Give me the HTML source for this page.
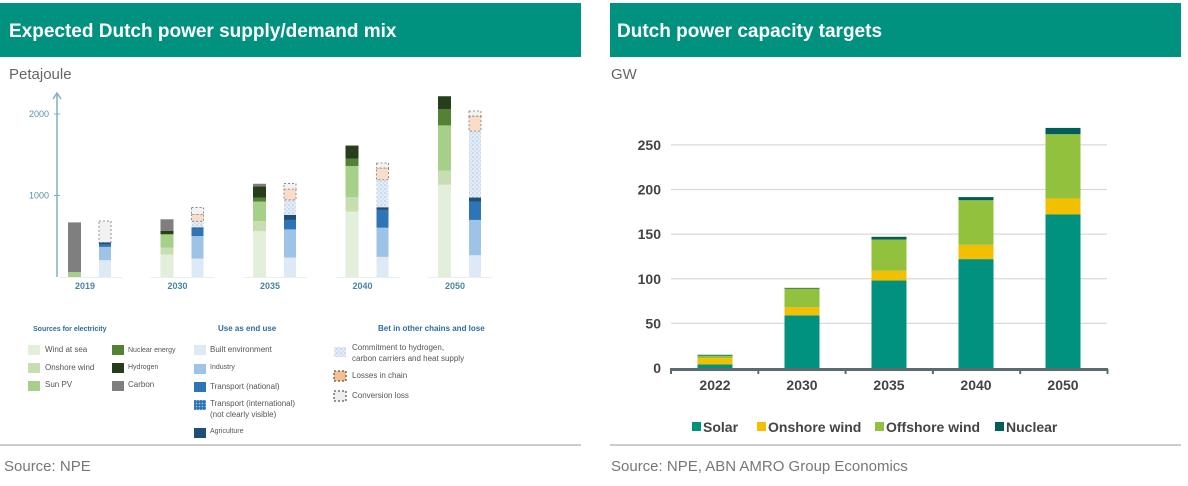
<!DOCTYPE html>
<html><head><meta charset="utf-8"><style>
body{margin:0;background:#fff;font-family:"Liberation Sans",sans-serif;}
svg{display:block}
</style></head><body>
<svg width="1188" height="486" viewBox="0 0 1188 486" xmlns="http://www.w3.org/2000/svg" font-family="Liberation Sans, sans-serif">
<defs>
<pattern id="dots" width="4" height="4" patternUnits="userSpaceOnUse"><rect width="4" height="4" fill="#e4edf7"/><circle cx="1" cy="1" r="0.8" fill="#a9c4e0"/><circle cx="3" cy="3" r="0.8" fill="#c4d7ec"/></pattern>
<pattern id="dots2" width="3" height="3" patternUnits="userSpaceOnUse"><rect width="3" height="3" fill="#2e75b6"/><circle cx="1.5" cy="1.5" r="0.8" fill="#9dc3e6"/></pattern>
</defs>
<rect x="0" y="3" width="581" height="54" fill="#00927f"/>
<text x="9" y="37" fill="#fff" font-size="19" font-weight="bold">Expected Dutch power supply/demand mix</text>
<rect x="610" y="3" width="571" height="54" fill="#00927f"/>
<text x="617" y="37" fill="#fff" font-size="19" font-weight="bold">Dutch power capacity targets</text>
<text x="9" y="79" fill="#666" font-size="15">Petajoule</text>
<text x="611" y="79" fill="#666" font-size="15">GW</text>
<line x1="0" y1="445" x2="581" y2="445" stroke="#bbb" stroke-width="1.5"/>
<line x1="610" y1="445" x2="1181" y2="445" stroke="#bbb" stroke-width="1.5"/>
<text x="4" y="471" fill="#777" font-size="15">Source: NPE</text>
<text x="611" y="471" fill="#777" font-size="15">Source: NPE, ABN AMRO Group Economics</text>
<g id="left"></g>
<g id="right"></g>
<g font-size="8" fill="#555">
<text x="33" y="331" fill="#2e6da4" font-size="7" font-weight="bold">Sources for electricity</text>
<text x="218" y="331" fill="#2e6da4" font-size="8" font-weight="bold">Use as end use</text>
<text x="378" y="331" fill="#2e6da4" font-size="8" font-weight="bold">Bet in other chains and lose</text>
<rect x="28" y="345" width="12" height="10" fill="#e3eedb"/><text x="45" y="352">Wind at sea</text>
<rect x="28" y="363" width="12" height="10" fill="#c6deb2"/><text x="45" y="370">Onshore wind</text>
<rect x="28" y="381" width="12" height="10" fill="#a6cf8a"/><text x="45" y="387">Sun PV</text>
<rect x="112" y="345" width="12" height="10" fill="#548235"/><text x="128" y="352" font-size="7">Nuclear energy</text>
<rect x="112" y="363" width="12" height="10" fill="#263f1a"/><text x="128" y="369" font-size="7">Hydrogen</text>
<rect x="112" y="381" width="12" height="10" fill="#7f7f7f"/><text x="128" y="387">Carbon</text>
<rect x="194" y="345" width="12" height="10" fill="#dde9f5"/><text x="210" y="352">Built environment</text>
<rect x="194" y="364" width="12" height="10" fill="#9dc3e6"/><text x="210" y="369" font-size="7">Industry</text>
<rect x="194" y="382" width="12" height="10" fill="#2e75b6"/><text x="210" y="389">Transport (national)</text>
<rect x="194" y="400" width="12" height="10" fill="url(#dots2)"/><text x="210" y="406">Transport (international)</text><text x="210" y="417">(not clearly visible)</text>
<rect x="194" y="428" width="12" height="10" fill="#1f4e79"/><text x="210" y="433" font-size="7">Agriculture</text>
<rect x="334" y="347" width="12" height="10" fill="url(#dots)"/><text x="352" y="350">Commitment to hydrogen,</text><text x="352" y="361">carbon carriers and heat supply</text>
<rect x="334" y="371" width="12" height="10" fill="#f4c08f" stroke="#333" stroke-dasharray="2,2"/><text x="352" y="378">Losses in chain</text>
<rect x="334" y="391" width="12" height="10" fill="#eee" stroke="#333" stroke-dasharray="2,2"/><text x="352" y="398">Conversion loss</text>
</g>
<g font-size="14" font-weight="bold" fill="#444">
<rect x="692" y="422" width="9" height="9" fill="#00927f"/><text x="703" y="432">Solar</text>
<rect x="757" y="422" width="9" height="9" fill="#f2c000"/><text x="768" y="432">Onshore wind</text>
<rect x="875" y="422" width="9" height="9" fill="#92c13e"/><text x="886" y="432">Offshore wind</text>
<rect x="995" y="422" width="9" height="9" fill="#005e5a"/><text x="1006" y="432">Nuclear</text>
</g>
<script>
// ---- Left chart data (PJ) ----
const lYears = ["2019","2030","2035","2040","2050"];
const windSea   = [0,275,564,802,1132];
const onshore   = [0,87,123,177,173];
const sunPV     = [60,160,239,383,555];
const nuclearE  = [0,6,49,91,198];
const hydrogen  = [0,40,136,160,160];
const carbon    = [610,140,33,0,0];
const builtEnv  = [206,226,239,247,267];
const industry  = [164,276,345,358,433];
const transport = [30,90,116,218,226];
const agri      = [24,17,61,33,49];
const commit    = [0,74,185,337,815];
const losses    = [0,82,132,144,185];
const convLoss  = [263,87,70,62,62];
const lTicks = [1000,2000];

// ---- Right chart data (GW) ----
const rYears = ["2022","2030","2035","2040","2050"];
const solar = [4,59,98,122,172];
const onWind = [7,9,11,16,18];
const offWind = [3,21,35,50,72];
const nuclear = [0.8,0.8,3,3.5,7];
const rTicks = [0,50,100,150,200,250];

const NS="http://www.w3.org/2000/svg";
function mk(parent,tag,attrs){const e=document.createElementNS(NS,tag);for(const k in attrs)e.setAttribute(k,attrs[k]);parent.appendChild(e);return e;}

// Left
const L=document.getElementById('left');
const ly=v=>277-v*0.0815;
const lx=i=>85+i*92.5;
const ax=mk(L,'line',{x1:57,y1:277,x2:57,y2:93,stroke:'#7fb0c4','stroke-width':1.5});


mk(L,'path',{d:'M53,99 L57,93 L61,99',fill:'none',stroke:'#7fb0c4','stroke-width':1.5});
lTicks.forEach(t=>{
  const tl=mk(L,'line',{x1:54,x2:60,y1:ly(t),y2:ly(t),stroke:'#7fb0c4'});
  
  
  const tx=mk(L,'text',{x:49,y:ly(t)+3,'text-anchor':'end','font-size':9,fill:'#5a8fa8'});
  tx.textContent=t;
  
  
});
const supply=[[windSea,'#e3eedb'],[onshore,'#c6deb2'],[sunPV,'#a6cf8a'],[nuclearE,'#548235'],[hydrogen,'#263f1a'],[carbon,'#7f7f7f']];
const demand=[[builtEnv,'#dde9f5',0],[industry,'#9dc3e6',0],[transport,'#2e75b6',0],[agri,'#1f4e79',0],[commit,'url(#dots)',0],[losses,'#fbdcc8',1],[convLoss,'#f2f2f2',1]];
lYears.forEach((y,i)=>{
  const c=lx(i);
  const bl=mk(L,'line',{x1:c-27,x2:c+37,y1:277.5,y2:277.5,stroke:'#e8eef2'});
  let acc=0;
  supply.forEach(([arr,col])=>{
    if(arr[i]<=0)return;
    const r=mk(L,'rect',{x:c-17,width:13,y:ly(acc+arr[i]),height:arr[i]*0.0815,fill:col});
    
    
    acc+=arr[i];
  });
  acc=0;
  demand.forEach(([arr,col,dash])=>{
    if(arr[i]<=0)return;
    const a={x:c+14,width:12,y:ly(acc+arr[i]),height:arr[i]*0.0815,fill:col};
    if(dash){a.stroke='#777';a['stroke-dasharray']='2,2';a['stroke-width']=0.8;}
    const r=mk(L,'rect',a);
    
    
    acc+=arr[i];
  });
  const t=mk(L,'text',{x:c,y:289,'text-anchor':'middle','font-size':9,'font-weight':'bold',fill:'#4a85a0'});
  t.textContent=y;
  
  
});

// Right
const R=document.getElementById('right');
const ry=v=>368-v*0.8925;
const rx=i=>715+i*87;
rTicks.forEach(t=>{
  if(t>0){const g=mk(R,'line',{x1:671,x2:1107,y1:ry(t),y2:ry(t),stroke:'#d9d9d9','stroke-width':1.2});
  
  }
  const tx=mk(R,'text',{x:661,y:ry(t)+5,'text-anchor':'end','font-size':14,'font-weight':'bold',fill:'#444'});
  tx.textContent=t;
  
  
});
const rs=[[solar,'#00927f'],[onWind,'#f2c000'],[offWind,'#92c13e'],[nuclear,'#005e5a']];
rYears.forEach((y,i)=>{
  let acc=0;
  rs.forEach(([arr,col])=>{
    const r=mk(R,'rect',{x:rx(i)-17.5,width:35,y:ry(acc+arr[i]),height:arr[i]*0.8925,fill:col});
    
    
    acc+=arr[i];
  });
  const t=mk(R,'text',{x:rx(i),y:390,'text-anchor':'middle','font-size':14,'font-weight':'bold',fill:'#444'});
  t.textContent=y;
  
  
});
const xa=mk(R,'line',{x1:670,x2:1108,y1:369.5,y2:369.5,stroke:'#5a6b70','stroke-width':3});


for(let k=0;k<=5;k++){mk(R,'line',{x1:671+k*87.3,x2:671+k*87.3,y1:369,y2:374,stroke:'#5a6b70','stroke-width':2});}
</script>
</svg>
</body></html>
